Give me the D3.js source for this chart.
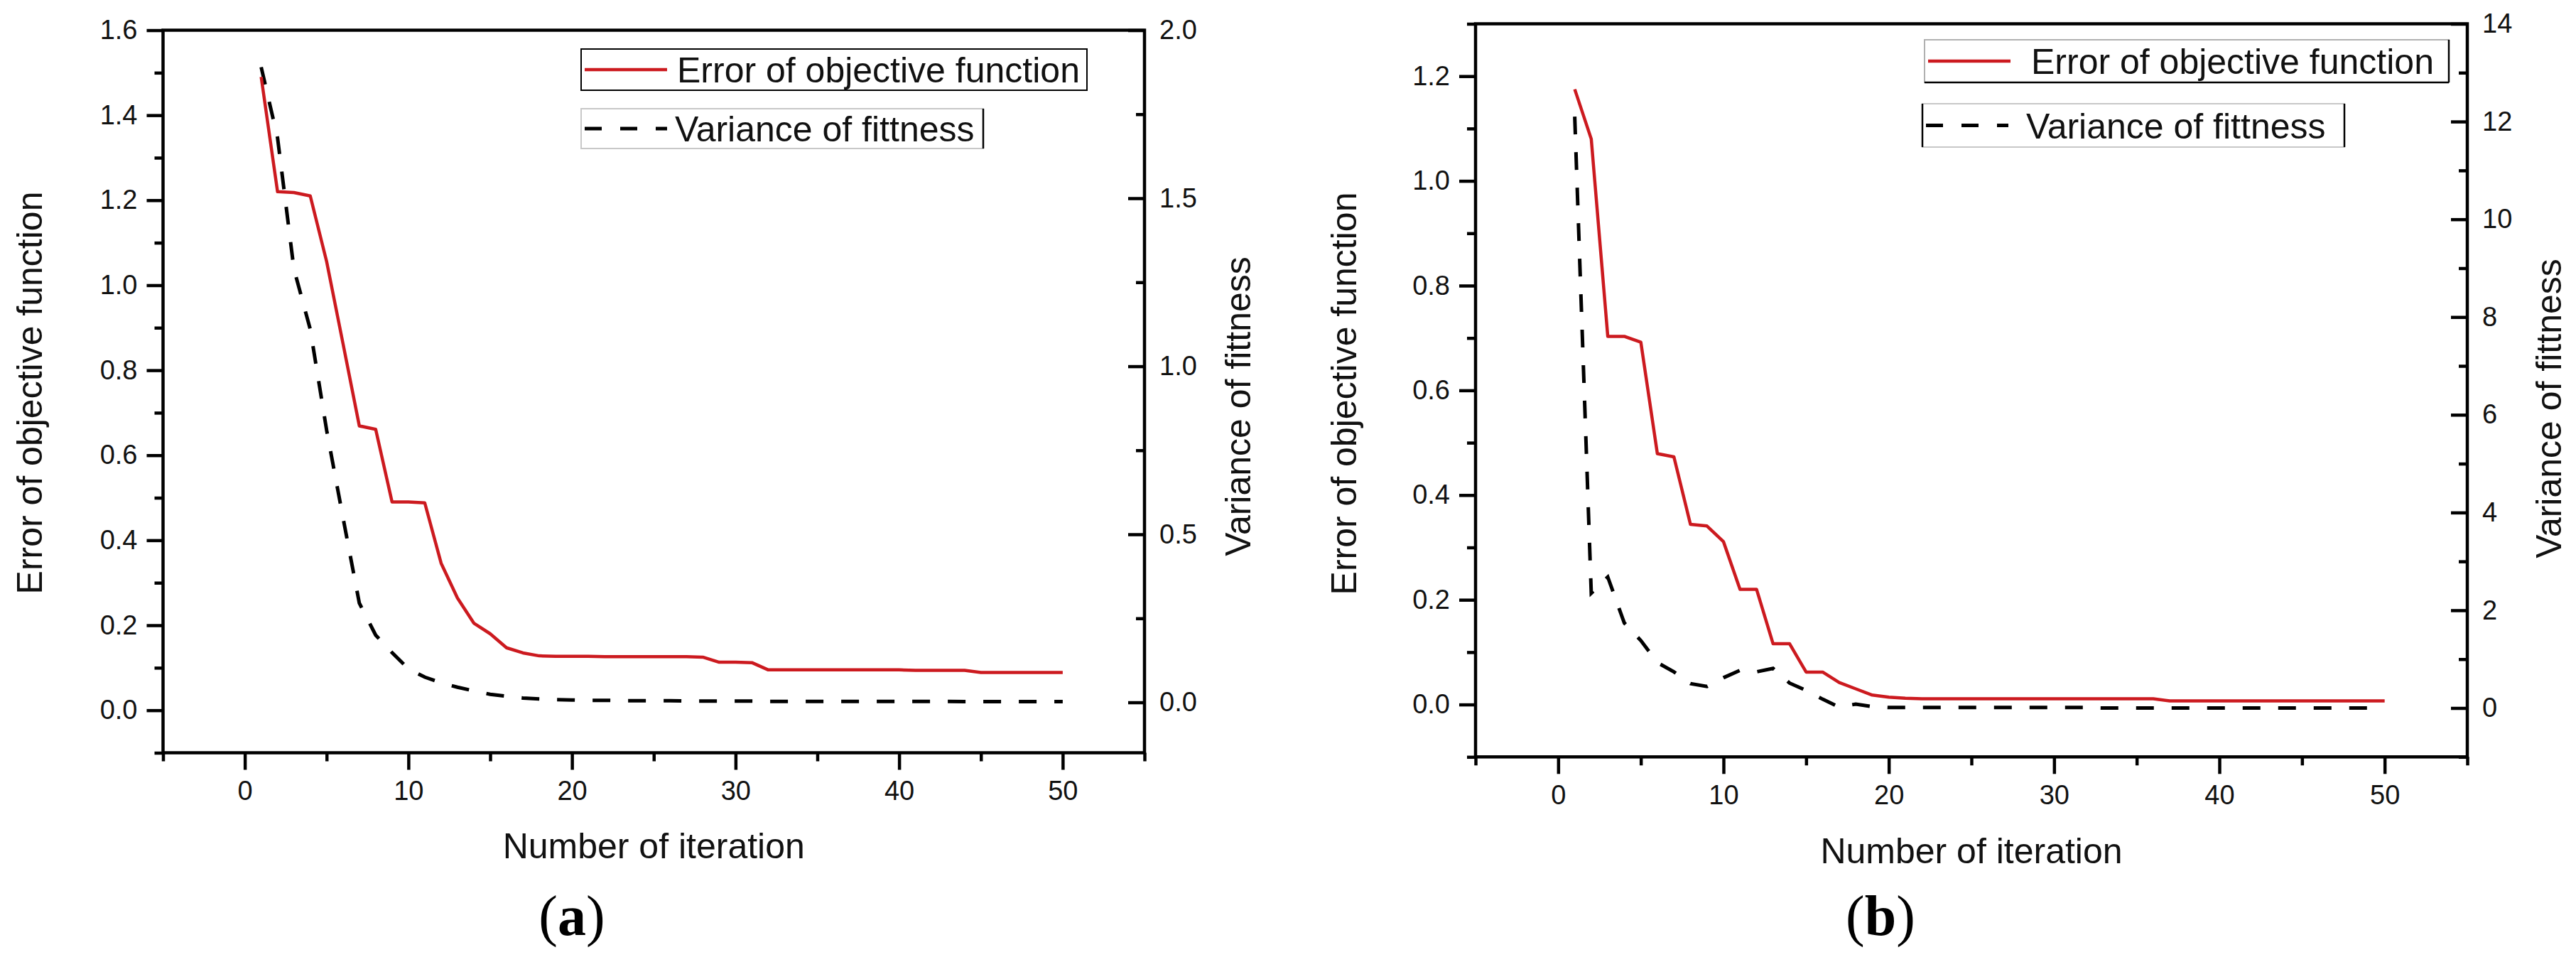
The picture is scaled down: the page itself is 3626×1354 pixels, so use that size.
<!DOCTYPE html>
<html>
<head>
<meta charset="utf-8">
<script src="https://cdn.jsdelivr.net/npm/d3@7"></script>
<style>
  body { margin: 0; background: #fff; }
  svg { display: block; background: #fff; }
  text { font-family: "Liberation Sans", Arial, Helvetica, sans-serif; }
</style>
</head>
<body>
<svg id="chart" width="3626" height="1354"></svg>
<script>
// ---------------- DATA ----------------
const iterations = [1,2,3,4,5,6,7,8,9,10,11,12,13,14,15,16,17,18,19,20,
  21,22,23,24,25,26,27,28,29,30,31,32,33,34,35,36,37,38,39,40,
  41,42,43,44,45,46,47,48,49,50];

// Panel (a)
const errorA = [1.49,1.22,1.218,1.21,1.056,0.863,0.669,0.661,0.49,0.49,
  0.488,0.346,0.264,0.205,0.18,0.147,0.135,0.128,0.127,0.127,
  0.127,0.126,0.126,0.126,0.126,0.126,0.126,0.125,0.113,0.113,
  0.112,0.095,0.095,0.095,0.095,0.095,0.095,0.095,0.095,0.095,
  0.094,0.094,0.094,0.094,0.089,0.089,0.089,0.089,0.089,0.089];
const varianceA = [1.89,1.68,1.29,1.11,0.81,0.55,0.295,0.20,0.148,0.10,
  0.075,0.058,0.045,0.034,0.024,0.018,0.013,0.010,0.008,0.007,
  0.006,0.006,0.005,0.005,0.005,0.005,0.004,0.004,0.004,0.004,
  0.004,0.003,0.003,0.003,0.003,0.003,0.003,0.003,0.003,0.003,
  0.003,0.003,0.003,0.002,0.002,0.002,0.002,0.002,0.002,0.002];

// Panel (b)
const errorB = [1.175,1.08,0.703,0.703,0.692,0.479,0.473,0.344,0.341,0.311,
  0.22,0.22,0.116,0.116,0.062,0.062,0.042,0.03,0.018,0.014,
  0.012,0.011,0.011,0.011,0.011,0.011,0.011,0.011,0.011,0.011,
  0.011,0.011,0.011,0.011,0.011,0.011,0.007,0.007,0.007,0.007,
  0.007,0.007,0.007,0.007,0.007,0.007,0.007,0.007,0.007,0.007];
const varianceB = [12.1,2.35,2.68,1.74,1.38,0.93,0.74,0.50,0.44,0.62,
  0.77,0.74,0.81,0.51,0.36,0.18,0.02,0.08,0.03,0.01,
  0.01,0.01,0.01,0.01,0.01,0.01,0.01,0.01,0.01,0.01,
  0.01,0.01,0.0,0.0,0.0,0.0,0.0,0.0,0.0,0.0,
  0.0,0.0,0.0,0.0,0.0,0.0,0.0,0.0,0.0,0.0];

// Axis ticks
const xDomain = [-5, 55];
const xMajorTicks = [0, 10, 20, 30, 40, 50];
const xMinorTicks = [-5, 5, 15, 25, 35, 45, 55];

const leftDomainA = [-0.1, 1.6];
const leftMajorA = [0.0, 0.2, 0.4, 0.6, 0.8, 1.0, 1.2, 1.4, 1.6];
const leftMinorA = [-0.1, 0.1, 0.3, 0.5, 0.7, 0.9, 1.1, 1.3, 1.5];
const rightDomainA = [-0.15, 2.0];
const rightMajorA = [0.0, 0.5, 1.0, 1.5, 2.0];
const rightMinorA = [0.25, 0.75, 1.25, 1.75];

const leftDomainB = [-0.1, 1.3];
const leftMajorB = [0.0, 0.2, 0.4, 0.6, 0.8, 1.0, 1.2];
const leftMinorB = [-0.1, 0.1, 0.3, 0.5, 0.7, 0.9, 1.1, 1.3];
const rightDomainB = [-1, 14];
const rightMajorB = [0, 2, 4, 6, 8, 10, 12, 14];
const rightMinorB = [-1, 1, 3, 5, 7, 9, 11, 13];

const labels = {
  x: "Number of iteration",
  left: "Error of objective function",
  right: "Variance of fittness",
  errSeries: "Error of objective function",
  varSeries: "Variance of fittness"
};

// ---------------- DRAWING ----------------
const svg = d3.select("#chart");
svg.append("rect").attr("width", 3626).attr("height", 1354).attr("fill", "#fff");

const RED = "#cc1a1f";
const AXW = 4.5;

function styleAxis(sel, fs) {
  sel.select(".domain").remove();
  sel.selectAll(".tick line").attr("stroke", "#000").attr("stroke-width", AXW);
  sel.selectAll(".tick text")
    .attr("fill", "#111")
    .style("font-size", fs + "px")
    .style("font-family", '"Liberation Sans", Arial, sans-serif');
}

function drawPanel(cfg) {
  const g = svg.append("g");
  const x = d3.scaleLinear().domain(xDomain).range([cfg.x0, cfg.x1]);
  const yL = d3.scaleLinear().domain(cfg.leftDomain).range([cfg.bottom, cfg.top]);
  const yR = d3.scaleLinear().domain(cfg.rightDomain).range([cfg.bottom, cfg.top]);

  // data lines
  const lineL = d3.line().x((d, i) => x(iterations[i])).y(d => yL(d));
  const lineR = d3.line().x((d, i) => x(iterations[i])).y(d => yR(d));

  g.append("path").datum(cfg.variance)
    .attr("d", lineR).attr("fill", "none")
    .attr("stroke", "#000").attr("stroke-width", 5)
    .attr("stroke-dasharray", "25,25");

  g.append("path").datum(cfg.error)
    .attr("d", lineL).attr("fill", "none")
    .attr("stroke", RED).attr("stroke-width", 4.5)
    .attr("stroke-linejoin", "round");

  // axes
  const fs = 38;
  g.append("g").attr("transform", `translate(${cfg.x0},0)`)
    .call(d3.axisLeft(yL).tickValues(cfg.leftMajor).tickSize(23).tickPadding(13).tickFormat(d3.format(".1f")))
    .call(s => styleAxis(s, fs));
  g.append("g").attr("transform", `translate(${cfg.x0},0)`)
    .call(d3.axisLeft(yL).tickValues(cfg.leftMinor).tickSize(12).tickFormat(""))
    .call(s => styleAxis(s, fs));

  g.append("g").attr("transform", `translate(${cfg.x1},0)`)
    .call(d3.axisRight(yR).tickValues(cfg.rightMajor).tickSize(-23).tickPadding(21).tickFormat(cfg.rightFormat))
    .call(s => styleAxis(s, fs));
  g.append("g").attr("transform", `translate(${cfg.x1},0)`)
    .call(d3.axisRight(yR).tickValues(cfg.rightMinor).tickSize(-12).tickFormat(""))
    .call(s => styleAxis(s, fs));

  g.append("g").attr("transform", `translate(0,${cfg.bottom})`)
    .call(d3.axisBottom(x).tickValues(xMajorTicks).tickSize(24).tickPadding(16).tickFormat(d3.format("d")))
    .call(s => styleAxis(s, fs));
  g.append("g").attr("transform", `translate(0,${cfg.bottom})`)
    .call(d3.axisBottom(x).tickValues(xMinorTicks).tickSize(12).tickFormat(""))
    .call(s => styleAxis(s, fs));

  // frame
  g.append("rect")
    .attr("x", cfg.x0).attr("y", cfg.top)
    .attr("width", cfg.x1 - cfg.x0).attr("height", cfg.bottom - cfg.top)
    .attr("fill", "none").attr("stroke", "#000").attr("stroke-width", AXW);

  // titles
  const tfs = 50;
  g.append("text")
    .attr("x", (cfg.x0 + cfg.x1) / 2).attr("y", cfg.xTitleY)
    .attr("text-anchor", "middle").style("font-size", tfs + "px").attr("fill", "#111")
    .text(labels.x);
  g.append("text")
    .attr("transform", `translate(${cfg.leftTitleX},${cfg.leftTitleCY}) rotate(-90)`)
    .attr("text-anchor", "middle").style("font-size", tfs + "px").attr("fill", "#111")
    .text(labels.left);
  g.append("text")
    .attr("transform", `translate(${cfg.rightTitleX},${cfg.rightTitleCY}) rotate(-90)`)
    .attr("text-anchor", "middle").style("font-size", tfs + "px").attr("fill", "#111")
    .text(labels.right);

  // legend
  cfg.legend.forEach((L, i) => {
    const lg = g.append("g");
    lg.append("rect").attr("x", L.x).attr("y", L.y).attr("width", L.w).attr("height", L.h)
      .attr("fill", "#fff").attr("stroke", L.stroke).attr("stroke-width", 2);
    (L.darkEdges || []).forEach(e => {
      let c;
      if (e === "right") c = [L.x + L.w, L.y, L.x + L.w, L.y + L.h];
      if (e === "left") c = [L.x, L.y, L.x, L.y + L.h];
      if (e === "bottom") c = [L.x, L.y + L.h, L.x + L.w, L.y + L.h];
      if (e === "top") c = [L.x, L.y, L.x + L.w, L.y];
      lg.append("line").attr("x1", c[0]).attr("y1", c[1]).attr("x2", c[2]).attr("y2", c[3])
        .attr("stroke", "#000").attr("stroke-width", 2.5);
    });
    const sy = L.y + L.h / 2;
    const sample = lg.append("line")
      .attr("x1", L.x + 5).attr("x2", L.x + 121).attr("y1", sy).attr("y2", sy);
    if (L.kind === "err") {
      sample.attr("stroke", RED).attr("stroke-width", 4.5);
    } else {
      sample.attr("stroke", "#000").attr("stroke-width", 5).attr("stroke-dasharray", "24,26");
    }
    lg.append("text").attr("x", L.tx).attr("y", sy + 18)
      .style("font-size", tfs + "px").attr("fill", "#111")
      .text(L.kind === "err" ? labels.errSeries : labels.varSeries);
  });

  // panel label
  const pl = g.append("text").attr("x", cfg.tagX).attr("y", 1316)
    .attr("text-anchor", "middle")
    .style("font-family", '"Liberation Serif", "Times New Roman", serif')
    .style("font-size", "80px").attr("fill", "#000");
  pl.append("tspan").text("(");
  pl.append("tspan").attr("font-weight", "bold").text(cfg.tag);
  pl.append("tspan").text(")");
}

drawPanel({
  x0: 229.5, x1: 1611, top: 42.5, bottom: 1059.5,
  leftDomain: leftDomainA, leftMajor: leftMajorA, leftMinor: leftMinorA,
  rightDomain: rightDomainA, rightMajor: rightMajorA, rightMinor: rightMinorA,
  rightFormat: d3.format(".1f"),
  error: errorA, variance: varianceA,
  xTitleY: 1208, leftTitleX: 59, leftTitleCY: 553, rightTitleX: 1760, rightTitleCY: 572,
  legend: [
    {kind: "err", x: 818, y: 69, w: 712, h: 58, tx: 953, stroke: "#000", darkEdges: []},
    {kind: "var", x: 818, y: 153, w: 566, h: 56, tx: 950, stroke: "#c8c8c8", darkEdges: ["right"]}
  ],
  tag: "a", tagX: 805
});

drawPanel({
  x0: 2077, x1: 3473, top: 33.5, bottom: 1065.3,
  leftDomain: leftDomainB, leftMajor: leftMajorB, leftMinor: leftMinorB,
  rightDomain: rightDomainB, rightMajor: rightMajorB, rightMinor: rightMinorB,
  rightFormat: d3.format("d"),
  error: errorB, variance: varianceB,
  xTitleY: 1215, leftTitleX: 1909, leftTitleCY: 554, rightTitleX: 3605, rightTitleCY: 575,
  legend: [
    {kind: "err", x: 2709, y: 56, w: 738, h: 60, tx: 2859, stroke: "#b0b0b0", darkEdges: ["right", "bottom"]},
    {kind: "var", x: 2706, y: 146, w: 594, h: 61, tx: 2852, stroke: "#c8c8c8", darkEdges: ["left", "right"]}
  ],
  tag: "b", tagX: 2647
});
</script>
</body>
</html>
